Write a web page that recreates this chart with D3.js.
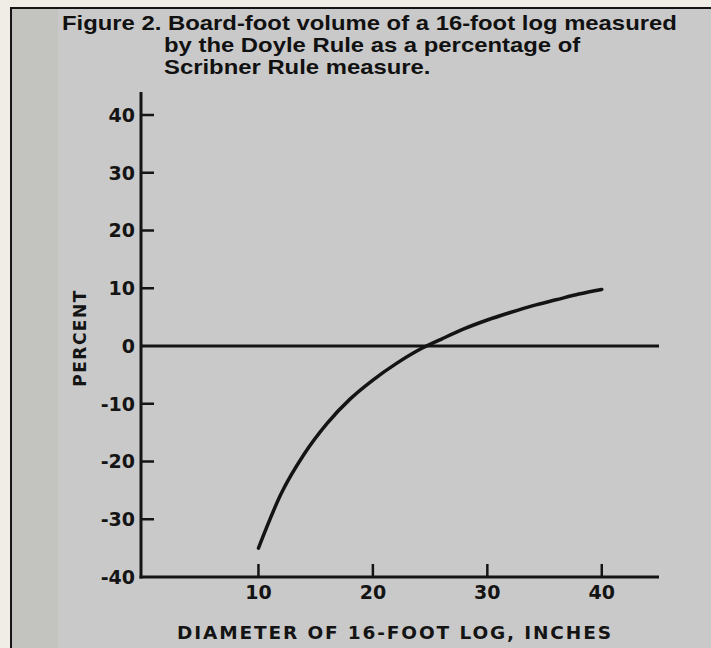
<!DOCTYPE html>
<html>
<head>
<meta charset="utf-8">
<script src="https://cdn.jsdelivr.net/npm/d3@7"></script>
<style>
  body { margin: 0; background: #ece9df; }
  svg { display: block; }
</style>
</head>
<body>
<div id="chart"></div>
<script>
// Doyle volume as % of Scribner volume
const diameters = [10, 12, 14, 16, 18, 20, 22, 24, 26, 28, 30, 32, 34, 36, 38, 40];
const percents = [-35, -25.5, -18.7, -13.4, -9.2, -5.9, -3.1, -0.7, 1.2, 3.0, 4.5, 5.8, 7.0, 8.0, 9.0, 9.8];
const xTicks = [10, 20, 30, 40];
const yTicks = [-40, -30, -20, -10, 0, 10, 20, 30, 40];
const titleLines = [
    "Figure 2. Board-foot volume of a 16-foot log measured",
    "by the Doyle Rule as a percentage of",
    "Scribner Rule measure."
];

const width = 711, height = 648;

const svg = d3.select("#chart")
    .append("svg")
    .attr("width", width)
    .attr("height", height);

// paper, black frame and the grey plate
svg.append("rect").attr("width", width).attr("height", height).attr("fill", "#efede6");
svg.append("rect").attr("x", 12).attr("y", 9).attr("width", width - 12).attr("height", height - 9).attr("fill", "#c3c3c0");
svg.append("rect").attr("x", 58).attr("y", 9).attr("width", width - 58).attr("height", height - 9).attr("fill", "#c9c9c9");
svg.append("path")
    .attr("d", `M11,${height}V8H${width}`)
    .attr("fill", "none")
    .attr("stroke", "#151515")
    .attr("stroke-width", 2);

// title: the printed face is wider than Arial, so stretch it sideways
const titleG = svg.append("g");
const title = titleG.append("text")
    .attr("font-family", "'Liberation Sans', Arial, sans-serif")
    .attr("font-weight", "bold")
    .attr("font-size", 20.5)
    .attr("fill", "#111");
const t1 = title.append("tspan").attr("x", 0).attr("y", 30).text(titleLines[0]);
const t2 = title.append("tspan").attr("y", 52).text(titleLines[1]);
const t3 = title.append("tspan").attr("y", 74).text(titleLines[2]);
const sx = 615 / t1.node().getComputedTextLength();
titleG.attr("transform", `translate(62,0) scale(${sx},1)`);
t2.attr("x", (164 - 62) / sx);
t3.attr("x", (164 - 62) / sx);

// scales
const x = d3.scaleLinear().domain([0, 45]).range([144, 659]);
const y = d3.scaleLinear().domain([-40, 40]).range([577, 115]);

const ink = "#141414";
const tickFont = "'DejaVu Sans', sans-serif";

// y axis: line, inward ticks, labels
const g = svg.append("g");
g.append("line")
    .attr("x1", x(0) - 3).attr("x2", x(0) - 3)
    .attr("y1", y(44)).attr("y2", y(-40) + 1.5)
    .attr("stroke", ink).attr("stroke-width", 3);

g.selectAll(".ytick")
    .data(yTicks.filter(d => d > -40 && d !== 0))
    .join("line")
    .attr("x1", x(0) - 3).attr("x2", x(0) + 10)
    .attr("y1", d => y(d)).attr("y2", d => y(d))
    .attr("stroke", ink).attr("stroke-width", 2.5);

g.selectAll(".ylab")
    .data(yTicks)
    .join("text")
    .attr("x", x(0) - 9)
    .attr("y", d => y(d))
    .attr("dy", "0.36em")
    .attr("text-anchor", "end")
    .attr("font-family", tickFont)
    .attr("font-weight", "bold")
    .attr("font-size", 19)
    .attr("fill", ink)
    .text(d => d < 0 ? "-" + Math.abs(d) : d);

// x axis: line, inward ticks, labels
g.append("line")
    .attr("x1", x(0) - 4.5).attr("x2", x(45))
    .attr("y1", y(-40)).attr("y2", y(-40))
    .attr("stroke", ink).attr("stroke-width", 3);

g.selectAll(".xtick")
    .data(xTicks)
    .join("line")
    .attr("x1", d => x(d)).attr("x2", d => x(d))
    .attr("y1", y(-40)).attr("y2", y(-40) - 13)
    .attr("stroke", ink).attr("stroke-width", 2.5);

g.selectAll(".xlab")
    .data(xTicks)
    .join("text")
    .attr("x", d => x(d))
    .attr("y", y(-40) + 15)
    .attr("dy", "0.36em")
    .attr("text-anchor", "middle")
    .attr("font-family", tickFont)
    .attr("font-weight", "bold")
    .attr("font-size", 19)
    .attr("fill", ink)
    .text(d => d);

// zero reference line
g.append("line")
    .attr("x1", x(0) - 3).attr("x2", x(45))
    .attr("y1", y(0)).attr("y2", y(0))
    .attr("stroke", ink).attr("stroke-width", 3);

// axis titles
svg.append("text")
    .attr("transform", `translate(86,338) rotate(-90)`)
    .attr("text-anchor", "middle")
    .attr("font-family", tickFont)
    .attr("font-weight", "bold")
    .attr("font-size", 17)
    .attr("letter-spacing", 1.5)
    .attr("fill", ink)
    .text("PERCENT");

svg.append("text")
    .attr("x", 177)
    .attr("y", 639)
    .attr("textLength", 434)
    .attr("lengthAdjust", "spacing")
    .attr("font-family", tickFont)
    .attr("font-weight", "bold")
    .attr("font-size", 18.5)
    .attr("fill", ink)
    .text("DIAMETER OF 16-FOOT LOG, INCHES");

// curve
const line = d3.line()
    .x((d, i) => x(diameters[i]))
    .y(d => y(d))
    .curve(d3.curveMonotoneX);

svg.append("path")
    .attr("d", line(percents))
    .attr("fill", "none")
    .attr("stroke", ink)
    .attr("stroke-width", 3.5)
    .attr("stroke-linecap", "round");
</script>
</body>
</html>
